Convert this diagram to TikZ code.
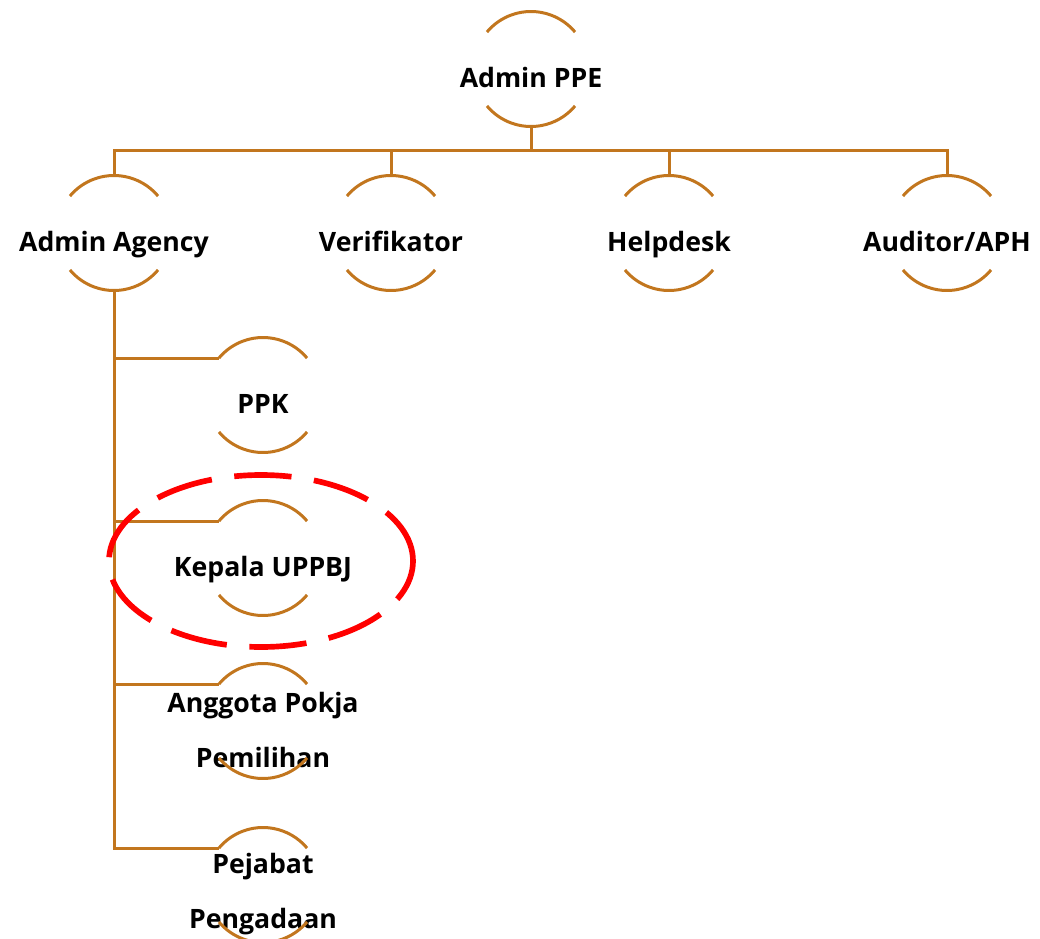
\documentclass[tikz,border=0pt]{standalone}
\usepackage{fontspec}
\setmainfont{Open Sans}
\definecolor{ringbrown}{RGB}{194,118,30}
\tikzset{
	ring/.style={circle, minimum size=86.25pt, inner sep=0pt, outer sep=0pt},
	ringline/.style={draw=ringbrown, line width=2.25pt},
	ringtext/.style={font=\bfseries\fontsize{20}{41}\selectfont, text height=14pt, text depth=0pt, yshift=-6.5pt},
	ringtexttwo/.style={font=\bfseries\fontsize{20}{41}\selectfont, align=center, yshift=-6.75pt},
	highlight/.style={draw=red, line width=4.25pt, dash pattern=on 43pt off 17pt},
}
\newcommand{\ringarcs}[1]{%
	\draw[ringline] (#1.140) arc[start angle=140, end angle=40, radius=57.5];
	\draw[ringline] (#1.220) arc[start angle=220, end angle=320, radius=57.5];
}
\begin{document}
\begin{tikzpicture}[x=0.75pt, y=0.75pt]
	\useasboundingbox (0,0) rectangle (1040,-939);
	%Top
	\node[ring, label={[ringtext]center:Admin PPE}] (ppe) at (531,-69) {};
	%Second row
	\node[ring, label={[ringtext]center:Admin Agency}] (agency) at (114,-233) {};
	\node[ring, label={[ringtext]center:Verifikator}] (verif) at (391,-233) {};
	\node[ring, label={[ringtext]center:Helpdesk}] (help) at (669,-233) {};
	\node[ring, label={[ringtext]center:Auditor/APH}] (aph) at (947,-233) {};
	%Agency column
	\node[ring, label={[ringtext]center:PPK}] (ppk) at (263,-395) {};
	\node[ring, label={[ringtext]center:Kepala UPPBJ}] (kepala) at (263,-558) {};
	\node[ring, label={[ringtexttwo]center:Anggota Pokja\\Pemilihan}] (pokja) at (263,-721) {};
	\node[ring, label={[ringtexttwo]center:Pejabat\\Pengadaan}] (pejabat) at (263,-885) {};
	%Arcs
	\foreach \n in {ppe,agency,verif,help,aph,ppk,kepala,pokja,pejabat}
		{\ringarcs{\n}}
	%Links
	\coordinate (bus) at (531,-150);
	\draw[ringline] (ppe.south) -- (bus);
	\draw[ringline] (agency.north) |- (bus) -| (aph.north);
	\draw[ringline] (verif.north) -- (verif.north |- bus);
	\draw[ringline] (help.north) -- (help.north |- bus);
	\foreach \kid in {ppk,kepala,pokja,pejabat}
		\draw[ringline] (agency.south) |- (\kid.140);
	%Highlight
	\draw[highlight] (261,-561) ellipse [x radius=152, y radius=86];
\end{tikzpicture}
\end{document}
